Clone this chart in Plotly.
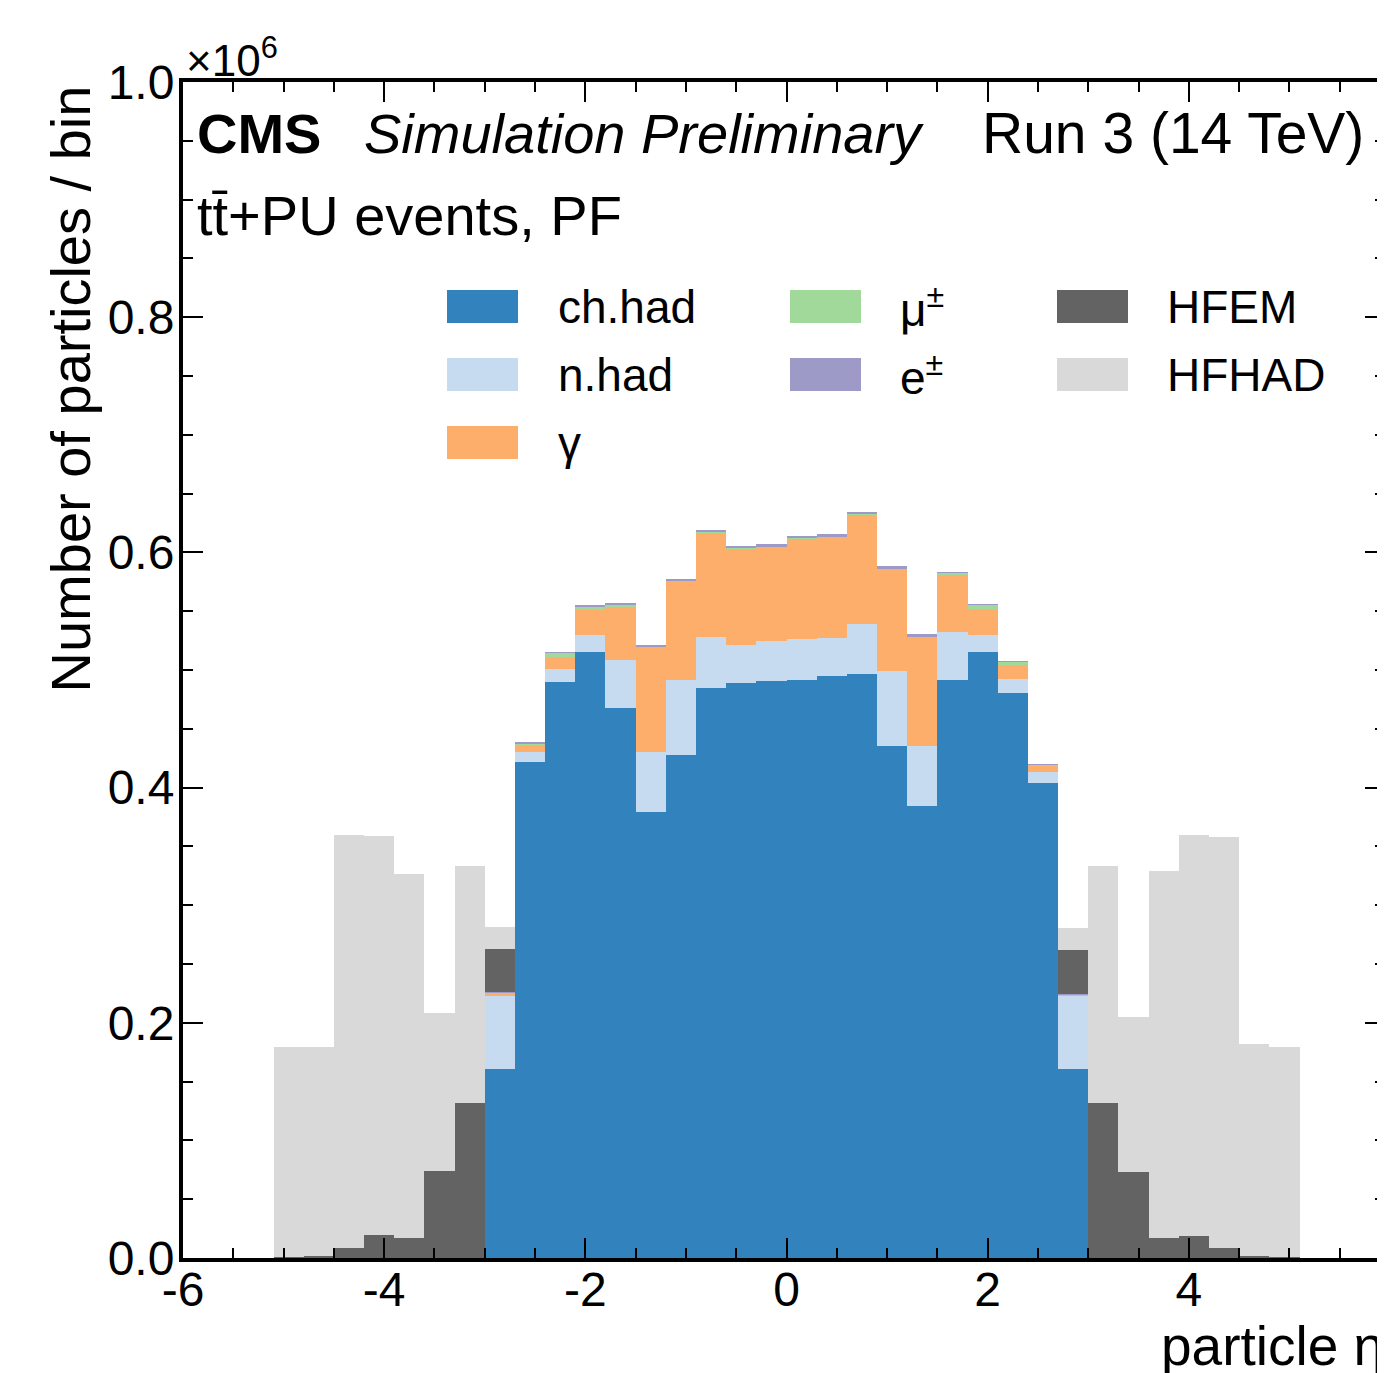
import plotly.graph_objects as go

# particle eta bins (width 0.3), centres from -4.95 to 4.95
eta_centers = [-4.95, -4.65, -4.35, -4.05, -3.75, -3.45, -3.15, -2.85, -2.55, -2.25,
               -1.95, -1.65, -1.35, -1.05, -0.75, -0.45, -0.15, 0.15, 0.45, 0.75,
               1.05, 1.35, 1.65, 1.95, 2.25, 2.55, 2.85, 3.15, 3.45, 3.75,
               4.05, 4.35, 4.65, 4.95]
bin_width = 0.3

# counts per bin, in units of 10^6
ch_had = [0, 0, 0, 0, 0, 0, 0, 0.1604, 0.4215, 0.4895,
          0.5153, 0.4674, 0.3795, 0.4277, 0.4847, 0.4890, 0.4904, 0.4912, 0.4952, 0.4966,
          0.4357, 0.3846, 0.4915, 0.5150, 0.4802, 0.4042, 0.1604, 0, 0, 0,
          0, 0, 0, 0]
n_had = [0, 0, 0, 0, 0, 0, 0, 0.0621, 0.0090, 0.0114,
         0.0142, 0.0411, 0.0505, 0.0641, 0.0434, 0.0323, 0.0343, 0.0352, 0.0323, 0.0423,
         0.0634, 0.0511, 0.0405, 0.0148, 0.0119, 0.0088, 0.0624, 0, 0, 0,
         0, 0, 0, 0]
gamma = [0, 0, 0, 0, 0, 0, 0, 0.0033, 0.0063, 0.0104,
         0.0213, 0.0453, 0.0896, 0.0839, 0.0890, 0.0822, 0.0802, 0.0856, 0.0859, 0.0935,
         0.0871, 0.0927, 0.0485, 0.0224, 0.0122, 0.0056, 0.0014, 0, 0, 0,
         0, 0, 0, 0]
muon = [0, 0, 0, 0, 0, 0, 0, 0, 0.0008, 0.0032,
        0.0034, 0.0020, 0.0004, 0.0004, 0.0004, 0.0004, 0.0004, 0.0004, 0.0004, 0.0004,
        0.0004, 0.0004, 0.0020, 0.0033, 0.0028, 0.0008, 0, 0, 0, 0,
        0, 0, 0, 0]
electron = [0, 0, 0, 0, 0, 0, 0, 0.0002, 0.0005, 0.0005,
            0.0005, 0.0005, 0.0015, 0.0015, 0.0015, 0.0015, 0.0015, 0.0015, 0.0015, 0.0015,
            0.0015, 0.0015, 0.0005, 0.0005, 0.0005, 0.0005, 0.0002, 0, 0, 0,
            0, 0, 0, 0]
hfem = [0.0005, 0.0015, 0.0088, 0.0196, 0.0173, 0.0743, 0.1320, 0.0365, 0, 0,
        0, 0, 0, 0, 0, 0, 0, 0, 0, 0,
        0, 0, 0, 0, 0, 0, 0.0371, 0.1320, 0.0734, 0.0173,
        0.0190, 0.0088, 0.0016, 0.0005]
hfhad = [0.1792, 0.1782, 0.3509, 0.3394, 0.3090, 0.1337, 0.2016, 0.0187, 0, 0,
         0, 0, 0, 0, 0, 0, 0, 0, 0, 0,
         0, 0, 0, 0, 0, 0, 0.0190, 0.2016, 0.1315, 0.3121,
         0.3407, 0.3492, 0.1801, 0.1792]

series_names = ["ch.had", "n.had", "γ", "μ<sup>±</sup>", "e<sup>±</sup>", "HFEM", "HFHAD"]
series_values = [ch_had, n_had, gamma, muon, electron, hfem, hfhad]
series_colors = ["#3182bd", "#c6dbef", "#fdae6b", "#a1d99b", "#9e9ac8", "#636363", "#d9d9d9"]

x_tick_vals = [-6, -4, -2, 0, 2, 4, 6]
x_tick_text = ["-6", "-4", "-2", "0", "2", "4", "6"]

# page body has an 8px margin, so the figure is shrunk by that much
OFF = 8
W, H = 1385 - OFF, 1373 - OFF
L, R, T, B = 183 - OFF, 0, 82 - OFF, 115
FONT = "Liberation Sans, Arial, Helvetica, sans-serif"


# page pixel -> paper coordinate
def px(x):
    return (x - OFF - L) / (W - L - R)


def py(y):
    return (H - B - (y - OFF)) / (H - T - B)


fig = go.Figure()
for name, vals, col in zip(series_names, series_values, series_colors):
    fig.add_trace(go.Bar(x=eta_centers, y=vals, width=bin_width, name=name,
                         marker=dict(color=col, line=dict(width=0)),
                         showlegend=False))
# empty trace so the right-hand tick axis gets drawn
fig.add_trace(go.Bar(x=[], y=[], yaxis="y2", showlegend=False, hoverinfo="skip"))

annotations = [
    dict(text="<b>CMS</b>", x=px(195), y=py(133), xanchor="left", yanchor="middle",
         font=dict(size=56)),
    dict(text="<i>Simulation Preliminary</i>", x=px(362), y=py(133), xanchor="left",
         yanchor="middle", font=dict(size=56)),
    dict(text="Run 3 (14 TeV)", x=px(1366), y=py(133), xanchor="right", yanchor="middle",
         font=dict(size=57)),
    dict(text="tt\u0304+PU events, PF", x=px(195), y=py(215), xanchor="left",
         yanchor="middle", font=dict(size=56)),
    dict(text="×10<sup>6</sup>", x=px(184), y=py(58), xanchor="left", yanchor="middle",
         font=dict(size=44)),
    dict(text="Number of particles / bin", x=px(70), y=py(84), xanchor="center",
         yanchor="top", textangle=-90, font=dict(size=56)),
    dict(text="particle η", x=1.0, y=py(1346), xanchor="right", yanchor="middle",
         xshift=1, font=dict(size=55)),
]

# legend: three columns, filled boxes + labels
shapes = []
col_box_x = [447, 790, 1057]
col_text_x = [556, 898, 1165]
row_y = [307, 375, 443]
slots = [(0, 0), (0, 1), (0, 2), (1, 0), (1, 1), (2, 0), (2, 1)]
for (c, r), name, col in zip(slots, series_names, series_colors):
    shapes.append(dict(type="rect", xref="paper", yref="paper",
                       x0=px(col_box_x[c]), x1=px(col_box_x[c] + 71),
                       y0=py(row_y[r] + 16), y1=py(row_y[r] - 17),
                       fillcolor=col, line=dict(width=0)))
    annotations.append(dict(text=name, x=px(col_text_x[c]), y=py(row_y[r]),
                            xanchor="left", yanchor="middle", font=dict(size=46)))

for a in annotations:
    a.update(xref="paper", yref="paper", showarrow=False)

fig.update_layout(
    width=W, height=H,
    margin=dict(l=L, r=R, t=T, b=B, pad=0),
    paper_bgcolor="white", plot_bgcolor="white",
    barmode="stack", bargap=0,
    font=dict(family=FONT, color="black", size=48),
    annotations=annotations, shapes=shapes,
    xaxis=dict(range=[-6, 5.95], tickmode="array", tickvals=x_tick_vals,
               ticktext=x_tick_text, ticks="inside", ticklen=20, tickwidth=2,
               tickcolor="black", showline=True, linewidth=4, linecolor="black",
               mirror="ticks", showgrid=False, zeroline=False,
               tickfont=dict(size=48), ticklabelstandoff=-14,
               minor=dict(tickmode="linear", tick0=-6, dtick=0.5, ticks="inside",
                          ticklen=10, tickwidth=2, tickcolor="black", showgrid=False)),
    yaxis=dict(range=[0, 1.0], dtick=0.2, tickformat=".1f", ticks="inside",
               ticklen=20, tickwidth=2, tickcolor="black", showline=True,
               linewidth=4, linecolor="black", mirror=False, showgrid=False,
               zeroline=False, tickfont=dict(size=48), ticklabelstandoff=-5,
               minor=dict(dtick=0.05, ticks="inside", ticklen=10, tickwidth=2,
                          tickcolor="black", showgrid=False)),
    yaxis2=dict(overlaying="y", side="right", matches="y", dtick=0.2,
                ticks="inside", ticklen=20, tickwidth=2, tickcolor="black",
                showticklabels=False, showline=False, showgrid=False, zeroline=False,
                minor=dict(dtick=0.05, ticks="inside", ticklen=10, tickwidth=2,
                           tickcolor="black", showgrid=False)),
)

fig.write_html("out.html")
